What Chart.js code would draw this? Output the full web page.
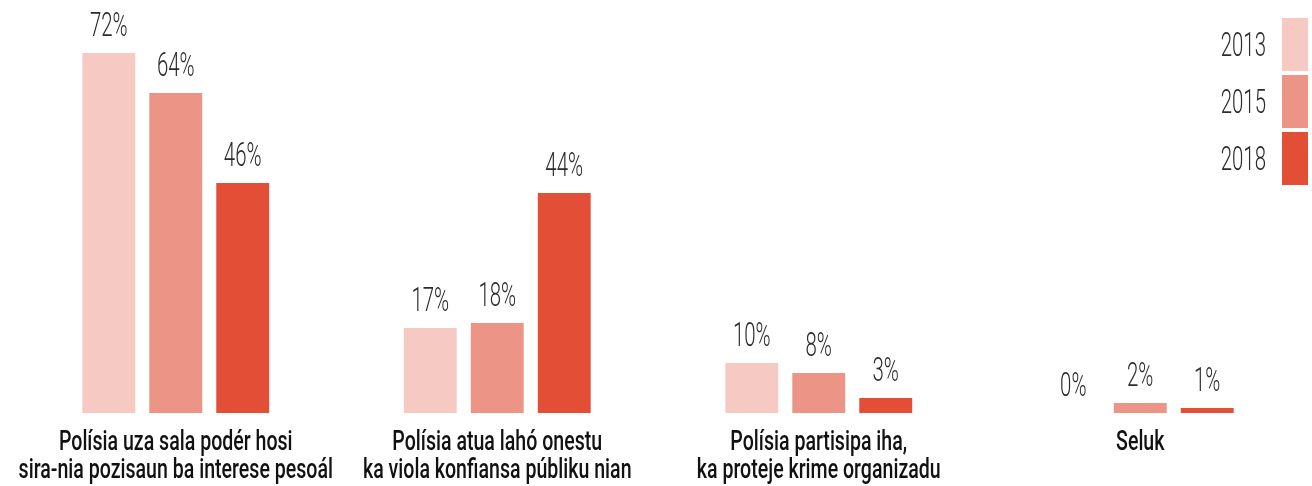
<!DOCTYPE html>
<html>
<head>
<meta charset="utf-8">
<script src="https://cdn.jsdelivr.net/npm/chart.js@4.4.1/dist/chart.umd.min.js"></script>
<style>
  html, body { margin: 0; padding: 0; background: #fff; }
  #caixa { width: 1312px; height: 486px; position: relative; }
</style>
</head>
<body>
<div id="caixa"><canvas id="grafiku"></canvas></div>
<script>
// dadus
const kategoria = [
  ["Polísia uza sala podér hosi", "sira-nia pozisaun ba interese pesoál"],
  ["Polísia atua lahó onestu", "ka viola konfiansa públiku nian"],
  ["Polísia partisipa iha,", "ka proteje krime organizadu"],
  ["Seluk"]
];
const tinan = ["2013", "2015", "2018"];
const valor2013 = [72, 17, 10, 0];
const valor2015 = [64, 18, 8, 2];
const valor2018 = [46, 44, 3, 1];
const kor = ["#f6c9c2", "#ec9486", "#e24e36"];

const valores = [valor2013, valor2015, valor2018];

// texto estreito (fonte condensada simulada)
function textuEstreitu(ctx, txt, x, y, sx, align) {
  ctx.save();
  ctx.translate(x, y);
  ctx.scale(sx, 1);
  ctx.textAlign = align;
  ctx.fillText(txt, 0, 0);
  ctx.restore();
}

const etiketaPlugin = {
  id: 'etiketa',
  afterDatasetsDraw(chart) {
    const ctx = chart.ctx;
    ctx.save();
    ctx.textBaseline = 'alphabetic';

    // valor iha leten bar
    ctx.fillStyle = '#2b2b2b';
    ctx.font = '300 34px Roboto';
    chart.data.datasets.forEach((ds, i) => {
      const meta = chart.getDatasetMeta(i);
      meta.data.forEach((bar, j) => {
        textuEstreitu(ctx, ds.data[j] + '%', bar.x, bar.y - 17, 0.6, 'center');
      });
    });

    // kategoria
    const xs = chart.scales.x;
    ctx.fillStyle = '#111';
    ctx.font = '500 27px Roboto';
    chart.data.labels.forEach((linhas, i) => {
      const x = xs.getPixelForValue(i);
      linhas.forEach((l, k) => {
        textuEstreitu(ctx, l, x, 450 + k * 28, 0.725, 'center');
      });
    });

    // lejenda
    ctx.font = '300 34px Roboto';
    chart.data.datasets.forEach((ds, i) => {
      const y = 18 + i * 57;
      ctx.fillStyle = ds.backgroundColor;
      ctx.fillRect(1282, y, 26, 53);
      ctx.fillStyle = '#2b2b2b';
      textuEstreitu(ctx, ds.label, 1266, y + 38, 0.6, 'right');
    });
    ctx.restore();
  }
};

new Chart(document.getElementById('grafiku'), {
  type: 'bar',
  data: {
    labels: kategoria,
    datasets: tinan.map((t, i) => ({
      label: t,
      data: valores[i],
      backgroundColor: kor[i],
      borderWidth: 0,
      categoryPercentage: 0.625,
      barPercentage: 0.79
    }))
  },
  options: {
    responsive: true,
    maintainAspectRatio: false,
    animation: false,
    layout: { padding: { left: 15, right: 11, top: 13, bottom: 73 } },
    plugins: {
      legend: { display: false },
      tooltip: { enabled: false }
    },
    scales: {
      x: { display: false, grid: { display: false } },
      y: { display: false, min: 0, max: 80 }
    }
  },
  plugins: [etiketaPlugin]
});
</script>
</body>
</html>
